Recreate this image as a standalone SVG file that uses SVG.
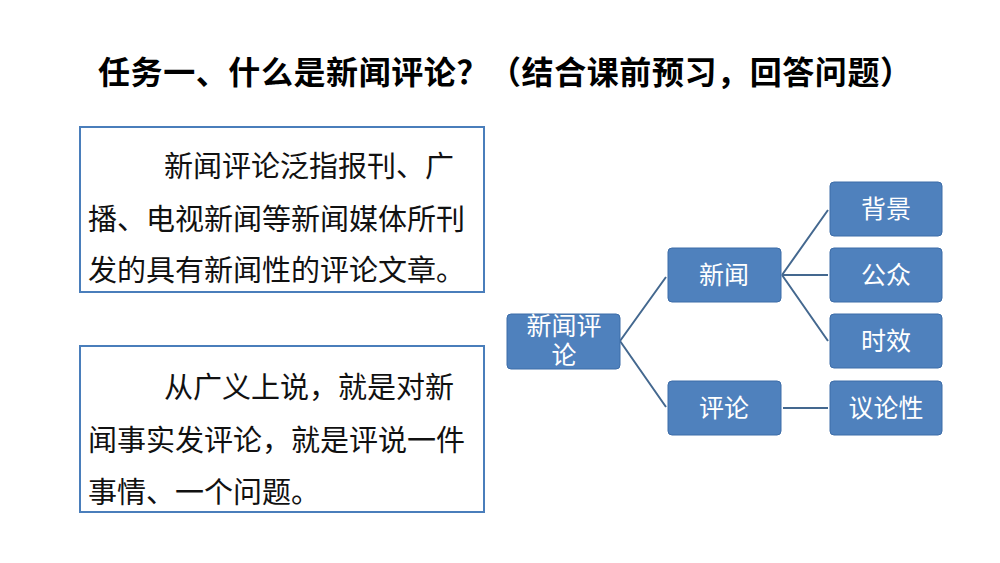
<svg xmlns="http://www.w3.org/2000/svg" width="1000" height="563" viewBox="0 0 1000 563">
<style>
.t{font-family:"Noto Sans CJK SC","Liberation Sans",sans-serif}
.title{font-size:32px;font-weight:bold;fill:#000}
.para{font-size:29px;fill:#111}
.pbox{fill:#fff;stroke:#4a7ebb;stroke-width:2}
.n rect{fill:#4f81bd;stroke:#3d6da8;stroke-width:1}
.n text{font-size:25px;fill:#fff;text-anchor:middle}
.c{stroke:#44688f;stroke-width:2;fill:none}
</style>
<rect width="1000" height="563" fill="#fff"/>
<text class="t title" x="98" y="84" textLength="814" lengthAdjust="spacing">任务一、什么是新闻评论？（结合课前预习，回答问题）</text>
<g id="box1">
<rect class="pbox" x="80" y="127" width="404" height="165"/>
<text class="t para"><tspan x="164" y="177">新闻评论泛指报刊、广</tspan><tspan x="88" y="230">播、电视新闻等新闻媒体所刊</tspan><tspan x="88" y="281">发的具有新闻性的评论文章。</tspan></text>
</g>
<g id="box2">
<rect class="pbox" x="80" y="346" width="404" height="166"/>
<text class="t para"><tspan x="164" y="398">从广义上说，就是对新</tspan><tspan x="88" y="451">闻事实发评论，就是评说一件</tspan><tspan x="88" y="503">事情、一个问题。</tspan></text>
</g>
<g id="connectors">
<path class="c" d="M620,341 L666,277 M620,341 L666,407 M782,275 L828,210 M782,275 L828,275 M782,275 L828,341 M783,408 L828,408"/>
</g>
<g id="root" class="n t"><rect x="507" y="314" width="113" height="55" rx="4"/><text x="564" y="335" font-size="23">新闻评</text><text x="564" y="364" font-size="23">论</text></g>
<g id="news" class="n t"><rect x="668" y="248" width="113" height="54" rx="4"/><text x="724" y="284">新闻</text></g>
<g id="comment" class="n t"><rect x="668" y="381" width="113" height="54" rx="4"/><text x="724" y="417">评论</text></g>
<g id="bg" class="n t"><rect x="830" y="182" width="112" height="54" rx="4"/><text x="886" y="218">背景</text></g>
<g id="public" class="n t"><rect x="830" y="248" width="112" height="54" rx="4"/><text x="886" y="284">公众</text></g>
<g id="time" class="n t"><rect x="830" y="314" width="112" height="54" rx="4"/><text x="886" y="350">时效</text></g>
<g id="arg" class="n t"><rect x="830" y="381" width="112" height="54" rx="4"/><text x="886" y="417">议论性</text></g>
</svg>
